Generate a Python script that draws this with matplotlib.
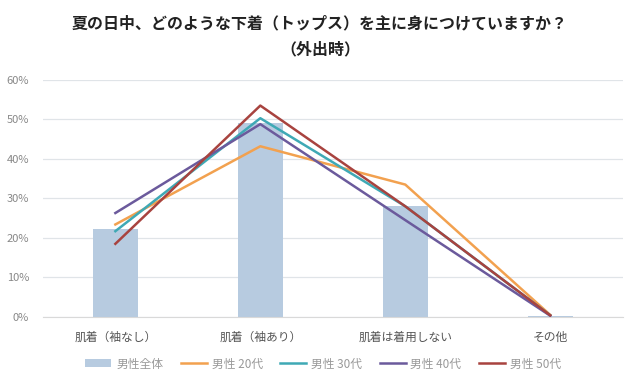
import matplotlib
matplotlib.use("Agg")
import matplotlib.pyplot as plt
import numpy as np
from matplotlib.ticker import PercentFormatter

plt.rcParams['font.family'] = ['Noto Sans CJK JP', 'DejaVu Sans']

categories = ["肌着（袖なし）", "肌着（袖あり）", "肌着は着用しない", "その他"]
total = [0.223, 0.49, 0.282, 0.003]
male20 = [0.234, 0.432, 0.335, 0.005]
male30 = [0.217, 0.503, 0.28, 0.004]
male40 = [0.263, 0.488, 0.245, 0.003]
male50 = [0.185, 0.535, 0.28, 0.004]
yticks = [0, 0.1, 0.2, 0.3, 0.4, 0.5, 0.6]

fig = plt.figure(figsize=(6.4, 3.86), dpi=100)
ax = fig.add_axes([0.067, 0.179, 0.906, 0.614])
x = np.arange(len(categories))

b = ax.bar(x, total, width=0.31, color="#B7CBE0", label="男性全体", zorder=2)
l20, = ax.plot(x, male20, color="#F2A14F", lw=1.8, label="男性 20代", zorder=3)
l30, = ax.plot(x, male30, color="#3FA9B5", lw=1.8, label="男性 30代", zorder=3)
l40, = ax.plot(x, male40, color="#6B5A9C", lw=1.8, label="男性 40代", zorder=3)
l50, = ax.plot(x, male50, color="#A8433F", lw=1.8, label="男性 50代", zorder=4)

ax.set_xlim(-0.5, len(categories) - 0.5)
ax.set_ylim(0, 0.6)
ax.set_yticks(yticks)
ax.yaxis.set_major_formatter(PercentFormatter(1.0, decimals=0))
ax.set_xticks(x)
ax.set_xticklabels(categories, fontsize=8.5, color="#555555")
ax.tick_params(axis='y', labelsize=8, colors="#888888", length=0, pad=10)
ax.tick_params(axis='x', length=0, pad=10)
ax.grid(axis='y', color="#E0E4E8", lw=0.9, zorder=0)
for s in ["top", "right", "left"]:
    ax.spines[s].set_visible(False)
ax.spines["bottom"].set_color("#D9D9D9")

fig.text(0.5, 0.94, "夏の日中、どのような下着（トップス）を主に身につけていますか？",
         ha="center", va="center", fontsize=11.5, fontweight="bold", color="#222222")
fig.text(0.5, 0.873, "（外出時）", ha="center", va="center", fontsize=11.5,
         fontweight="bold", color="#222222")

leg = fig.legend([b, l20, l30, l40, l50],
                 ["男性全体", "男性 20代", "男性 30代", "男性 40代", "男性 50代"],
                 loc="center", bbox_to_anchor=(0.505, 0.057), ncol=5, frameon=False,
                 fontsize=8.5, handlelength=2.2, columnspacing=1.5, handletextpad=0.4)
for t in leg.get_texts():
    t.set_color("#999999")

fig.savefig("out.png", dpi=100)
